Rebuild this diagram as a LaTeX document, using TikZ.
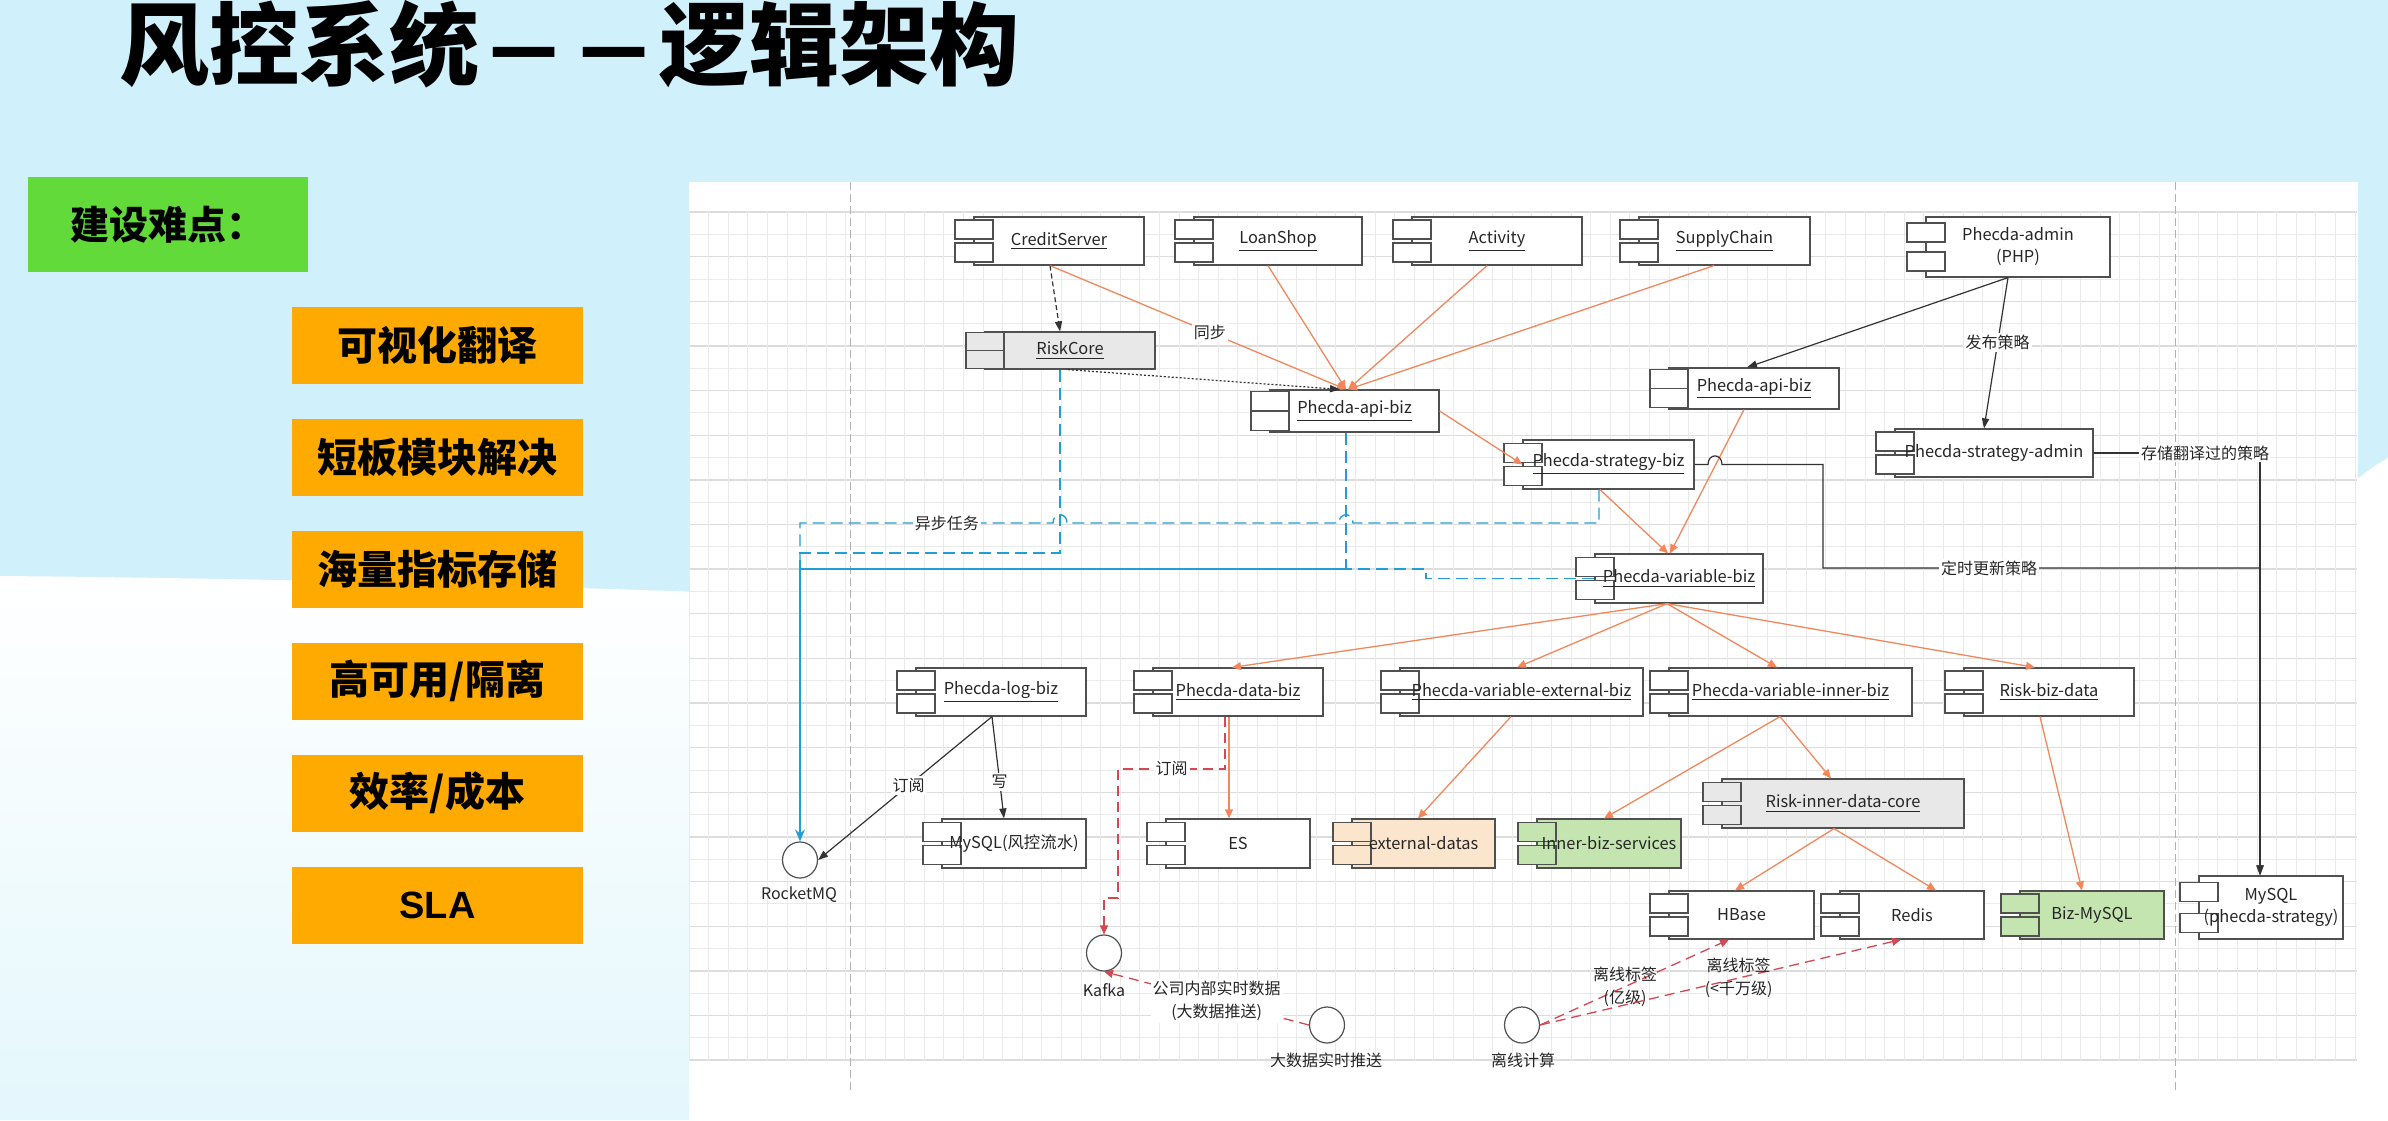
\documentclass[tikz,border=0pt]{standalone}
\usepackage{fontspec}
\setmainfont{Noto Sans CJK SC}
\newfontfamily\lsans{Liberation Sans}
\usetikzlibrary{arrows.meta,shapes.geometric,calc}

\definecolor{bgblue}{RGB}{208,240,251}
\definecolor{gbox}{RGB}{98,218,58}
\definecolor{obox}{RGB}{255,170,0}
\definecolor{orng}{RGB}{242,135,92}
\definecolor{blu}{RGB}{35,158,212}
\definecolor{rdash}{RGB}{212,72,82}
\definecolor{peach}{RGB}{252,229,205}
\definecolor{lgreen}{RGB}{197,229,176}
\definecolor{lgrey}{RGB}{232,232,232}
\definecolor{gridc}{RGB}{234,234,234}
\definecolor{gridd}{RGB}{220,220,220}
\definecolor{edgec}{RGB}{80,80,80}

\tikzset{
 compbox/.style={draw=edgec, line width=0.6pt, fill=white, inner sep=0pt, rectangle},
 tabst/.style={draw=edgec, line width=0.6pt, fill=white},
 comptext/.style={font=\fontsize{8.2}{11}\selectfont, text=black!85, inner sep=0pt, align=center},
 orarrow/.style={draw=orng, line width=0.65pt, -{Triangle[length=4.5pt,width=4pt]}},
 blarrow/.style={draw=black!80, line width=0.6pt, -{Triangle[length=5pt,width=3.6pt]}},
 bluedash/.style={draw=blu, line width=0.7pt, dash pattern=on 6pt off 3pt},
 bluesolid/.style={draw=blu, line width=0.7pt},
 reddash/.style={draw=rdash, line width=0.65pt, dash pattern=on 5pt off 3pt, -{Triangle[length=4.5pt,width=4pt]}},
 elab/.style={font=\fontsize{8}{11.5}\selectfont, fill=white, inner sep=1pt, text=black!85, align=center},
 elabnf/.style={font=\fontsize{8}{11.5}\selectfont, inner sep=1pt, text=black!85, align=center},
 iface/.style={ellipse, draw=edgec, line width=0.6pt, fill=white, minimum width=17.5pt, minimum height=18pt, inner sep=0pt},
 ilab/.style={font=\fontsize{8}{10}\selectfont, text=black!85, inner sep=0pt},
 leftbox/.style={fill=obox, minimum width=145.5pt, minimum height=38.5pt, inner sep=0pt, font=\bfseries\fontsize{20}{24}\selectfont},
}

% #1 extra options, #2 name, #3 x1, #4 y1, #5 x2, #6 y2, #7 text
\newcommand\comp[7][]{%
 \node[compbox,#1,minimum width={(#5-#3)*0.5pt},minimum height={(#6-#4)*0.5pt}] (#2) at ({(#3+#5)/2},{(#4+#6)/2}) {};
 \pgfmathsetmacro\tabo{max(0,3+0.25*(#6-#4-48))}%
 \pgfmathsetmacro\tabh{min(19,(#6-#4)/2-\tabo)}%
 \draw[tabst,#1] ({#3-19},{#4+\tabo}) rectangle ({#3+19},{#4+\tabo+\tabh});
 \draw[tabst,#1] ({#3-19},{#6-\tabo-\tabh}) rectangle ({#3+19},{#6-\tabo});
 \node[comptext] (#2-t) at (#2) {#7};
}
\newcommand\tdash{\makebox[1em]{\scalebox{0.84}[1]{—}}}

\begin{document}
\begin{tikzpicture}[x=0.5pt,y=-0.5pt]
\useasboundingbox (0,0) rectangle (2388,1120);
% background
\fill[bgblue] (0,0) rectangle (2388,1120);
\shade[top color=white, bottom color={rgb,255:red,228;green,247;blue,252}] (0,576) .. controls (250,578) and (500,585) .. (700,592) -- (700,1120) -- (0,1120) -- cycle;
\fill[white] (2350,485) .. controls (2368,470) and (2380,462) .. (2388,458) -- (2388,1120) -- (2350,1120) -- cycle;

% diagram panel
\fill[white] (689,182) rectangle (2358,1120);
\foreach \i in {0,...,38} {
  \pgfmathsetmacro\yy{212+\i*22.32}
  \pgfmathtruncatemacro\md{mod(\i,2)}
  \ifnum\md=0 \draw[gridd, line width=0.7pt] (689,\yy) -- (2357,\yy);
  \else \draw[gridc, line width=0.45pt] (689,\yy) -- (2357,\yy); \fi
}
\foreach \i in {0,...,85} {
  \pgfmathsetmacro\xx{689+\i*19.6}
  \draw[gridc, line width=0.45pt] (\xx,212) -- (\xx,1060);
}
\draw[black!30, dash pattern=on 4pt off 2pt, line width=0.5pt] (850,182) -- (850,1093);
\draw[black!30, dash pattern=on 4pt off 2pt, line width=0.5pt] (2175,182) -- (2175,1093);

% title
\node[anchor=base west, inner sep=0pt, font=\bfseries\fontsize{45}{50}\selectfont] (title) at (119,78) {风控系统\tdash\tdash 逻辑架构};

% left column
\node[fill=gbox, minimum width=140pt, minimum height=47.5pt, inner sep=0pt] (hard) at (168,224.5) {};
\node[anchor=west, inner sep=0pt, font=\bfseries\fontsize{19.5}{22}\selectfont] (hard-t) at (70,225) {建设难点：};
\node[leftbox] (d1) at (437.5,345) {可视化翻译};
\node[leftbox] (d2) at (437.5,457) {短板模块解决};
\node[leftbox] (d3) at (437.5,569) {海量指标存储};
\node[leftbox] (d4) at (437.5,681) {高可用/隔离};
\node[leftbox] (d5) at (437.5,793) {效率/成本};
\node[leftbox, font=\lsans\bfseries\fontsize{19}{22}\selectfont] (d6) at (437.5,905) {SLA};

% components
\comp{credit}{974}{217}{1144}{265}{\underline{CreditServer}}
\comp{loan}{1194}{217}{1362}{265}{\underline{LoanShop}}
\comp{activity}{1412}{217}{1582}{265}{\underline{Activity}}
\comp{supply}{1639}{217}{1810}{265}{\underline{SupplyChain}}
\comp{admin}{1926}{217}{2110}{277}{Phecda-admin\\(PHP)}
\comp[fill=lgrey]{riskcore}{985}{332}{1155}{369}{\underline{RiskCore}}
\comp{apibiz}{1270}{390}{1439}{432}{\underline{Phecda-api-biz}}
\comp{apibiz2}{1669}{368}{1839}{409}{\underline{Phecda-api-biz}}
\comp{stratbiz}{1523}{440}{1694}{489}{\underline{Phecda-strategy-biz}}
\comp{stratadmin}{1895}{429}{2093}{477}{Phecda-strategy-admin}
\comp{varbiz}{1595}{554}{1763}{603}{\underline{Phecda-variable-biz}}
\comp{logbiz}{916}{668}{1086}{716}{\underline{Phecda-log-biz}}
\comp{databiz}{1153}{668}{1323}{716}{\underline{Phecda-data-biz}}
\comp{extbiz}{1400}{668}{1643}{716}{\underline{Phecda-variable-external-biz}}
\comp{innerbiz}{1669}{668}{1912}{716}{\underline{Phecda-variable-inner-biz}}
\comp{riskbiz}{1964}{668}{2134}{716}{\underline{Risk-biz-data}}
\comp{mysqlflow}{942}{819}{1086}{868}{MySQL(风控流水)}
\comp{es}{1166}{819}{1310}{868}{ES}
\comp[fill=peach]{extdata}{1352}{819}{1495}{868}{external-datas}
\comp[fill=lgreen]{innersvc}{1537}{819}{1681}{868}{Inner-biz-services}
\comp[fill=lgrey]{ridc}{1722}{779}{1964}{828}{\underline{Risk-inner-data-core}}
\comp{hbase}{1669}{891}{1814}{939}{HBase}
\comp{redis}{1840}{891}{1984}{939}{Redis}
\comp[fill=lgreen]{bizmysql}{2020}{891}{2164}{939}{Biz-MySQL}
\comp{mysqlps}{2199}{876}{2343}{939}{MySQL\\(phecda-strategy)}

% interfaces
\node[iface] (rocketmq) at (800,860) {};
\node[iface] (kafka) at (1104,953) {};
\node[iface] (bigdata) at (1327,1025) {};
\node[iface] (offline) at (1522,1025) {};
\node[ilab] (rocketmq-l) at (799,895) {RocketMQ};
\node[ilab] (kafka-l) at (1104,990) {Kafka};
\node[ilab] (bigdata-l) at (1326,1060) {大数据实时推送};
\node[ilab] (offline-l) at (1523,1060) {离线计算};

% orange connectors
\draw[orarrow] (credit.south -| 1050,0) -- node[elab,pos=0.54]{同步} (apibiz.north -| 1346,0);
\draw[orarrow] (loan.south -| 1268,0) -- (apibiz.north -| 1346,0);
\draw[orarrow] (activity.south -| 1487,0) -- (apibiz.north -| 1348,0);
\draw[orarrow] (supply.south -| 1714,0) -- (apibiz.north -| 1348,0);
\draw[orarrow] (apibiz.east) -- (stratbiz.west);
\draw[orarrow] (stratbiz.south -| 1600,0) -- (varbiz.north -| 1668,0);
\draw[orarrow] (apibiz2.south -| 1744,0) -- (varbiz.north -| 1670,0);
\draw[orarrow] (varbiz.south -| 1667,0) -- (databiz.north -| 1232,0);
\draw[orarrow] (varbiz.south -| 1667,0) -- (extbiz.north -| 1517,0);
\draw[orarrow] (varbiz.south -| 1667,0) -- (innerbiz.north -| 1777,0);
\draw[orarrow] (varbiz.south -| 1667,0) -- (riskbiz.north -| 2035,0);
\draw[orarrow] (databiz.south -| 1229,0) -- (es.north -| 1229,0);
\draw[orarrow] (extbiz.south -| 1511,0) -- (extdata.north -| 1418,0);
\draw[orarrow] (innerbiz.south -| 1780,0) -- (innersvc.north -| 1604,0);
\draw[orarrow] (innerbiz.south -| 1780,0) -- (ridc.north -| 1831,0);
\draw[orarrow] (ridc.south -| 1834,0) -- (hbase.north -| 1735,0);
\draw[orarrow] (ridc.south -| 1834,0) -- (redis.north -| 1936,0);
\draw[orarrow] (riskbiz.south -| 2040,0) -- (bizmysql.north -| 2082,0);

% black connectors
\draw[blarrow] (admin.south -| 2008,0) -- (apibiz2.north -| 1747,0);
\draw[blarrow] (admin.south -| 2008,0) -- node[elab,pos=0.43]{发布策略} (stratadmin.north -| 1984,0);
\draw[blarrow] (logbiz.south -| 992,0) -- node[elab,pos=0.48]{订阅} (rocketmq.east);
\draw[blarrow] (logbiz.south -| 992,0) -- node[elab,pos=0.64]{写} (mysqlflow.north -| 1004,0);
\draw[blarrow] (stratbiz.east) -- (1708,464.5) .. controls (1708,453) and (1722,453) .. (1722,464.5) -- (1823,464.5) -- (1823,568) -- node[elab,pos=0.38]{定时更新策略} (2260,568) -- (mysqlps.north -| 2260,0);
\draw[blarrow] (stratadmin.east) -- node[elab,pos=0.67]{存储翻译过的策略} (2260,453) -- (mysqlps.north -| 2260,0);
\draw[blarrow, dash pattern=on 2.5pt off 1.5pt] (credit.south -| 1050,0) -- (riskcore.north -| 1060,0);
\draw[blarrow, dash pattern=on 1pt off 1pt] (riskcore.south -| 1068,0) -- (apibiz.north -| 1340,0);

% blue connectors (to RocketMQ)
\coordinate (bj) at (1346,569);
\draw[bluedash] (riskcore.south -| 1060,0) -- (1060,553) -- (800,553) -- (800,569);
\draw[bluedash] (stratbiz.south -| 1599,0) -- (1599,523) -- (1353,523) .. controls (1353,512) and (1339,512) .. (1339,523) -- (1067,523) .. controls (1067,512) and (1053,512) .. (1053,523) -- node[elab,pos=0.42]{异步任务} (800,523) -- (800,569);
\draw[bluedash] (apibiz.south -| 1346,0) -- (bj);
\draw[bluedash] (varbiz.west) -- (1426,578.5) -- (1426,569) -- (bj);
\draw[bluesolid, -{Stealth[length=6pt,width=5pt]}] (bj) -- (800,569) -- (rocketmq.north);

% red dashed connectors
\draw[reddash] (databiz.south -| 1225,0) -- (1225,769) -- node[elab,pos=0.5]{订阅} (1118,769) -- (1118,898) -- (1104,898) -- (kafka.north);
\draw[reddash] (bigdata.west) -- node[elab,pos=0.45]{公司内部实时数据\\(大数据推送)} (kafka.south);
\draw[reddash] (offline.east) -- node[elabnf,pos=0.45]{离线标签\\(亿级)} (hbase.south -| 1729,0);
\draw[reddash] (offline.east) -- node[elabnf,pos=0.55]{离线标签\\(<千万级)} (redis.south -| 1901,0);
\end{tikzpicture}
\end{document}
